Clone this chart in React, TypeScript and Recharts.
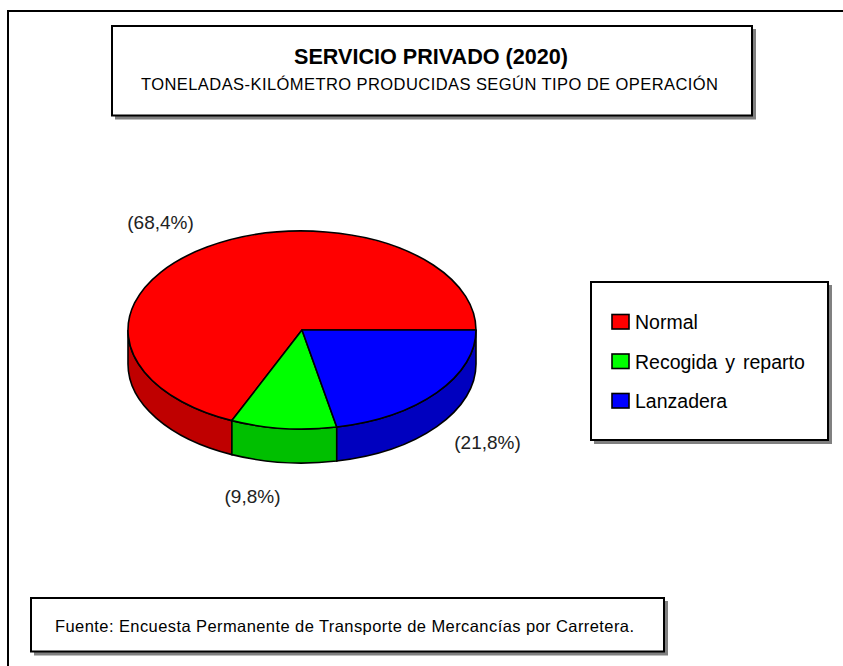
import React from "react";
import { PieChart, Pie, Legend } from "recharts";

const categories = ["Normal", "Recogida y reparto", "Lanzadera"];
const shares = [68.4, 9.8, 21.8];
const topColors = ["#FF0000", "#00FF00", "#0000FF"];
const wallColors = ["#BF0000", "#00BF00", "#0000BF"];
const valueLabels = ["(68,4%)", "(9,8%)", "(21,8%)"];

const titleText = "SERVICIO PRIVADO (2020)";
const subtitleText = "TONELADAS-KILÓMETRO PRODUCIDAS SEGÚN TIPO DE OPERACIÓN";
const sourceText = "Fuente: Encuesta Permanente de Transporte de Mercancías por Carretera.";

const W = 843;
const H = 666;
const FONT = "'Liberation Sans', Arial, sans-serif";
const CX = 302;
const CY = 330;
const RX = 174;
const RY = 99;
const DEPTH = 34;
const RAD = Math.PI / 180;

// label centre offsets from the pie centre
const labelOffsets = [
  [-141.5, -108],
  [-49.5, 166],
  [185.5, 112],
];

const data = categories.map((name, i) => ({
  name,
  value: shares[i],
  fill: topColors[i],
  wall: wallColors[i],
  label: valueLabels[i],
}));

const pt = (cx: number, cy: number, a: number, rx: number, ry: number) => [
  cx + rx * Math.cos(a * RAD),
  cy - ry * Math.sin(a * RAD),
];

function Slice3D(props: any) {
  const { cx, cy, outerRadius, startAngle, endAngle, fill, payload } = props;
  const rx = outerRadius;
  const ry = (outerRadius * RY) / RX;
  const a0 = Math.min(startAngle, endAngle);
  const a1 = Math.max(startAngle, endAngle);
  const [x0, y0] = pt(cx, cy, a0, rx, ry);
  const [x1, y1] = pt(cx, cy, a1, rx, ry);
  const large = a1 - a0 > 180 ? 1 : 0;
  const top = `M${cx},${cy} L${x0},${y0} A${rx},${ry} 0 ${large} 0 ${x1},${y1} Z`;
  const w0 = Math.max(a0, 180);
  const w1 = Math.min(a1, 360);
  let wall = null;
  if (w1 > w0) {
    const [wx0, wy0] = pt(cx, cy, w0, rx, ry);
    const [wx1, wy1] = pt(cx, cy, w1, rx, ry);
    const d = `M${wx0},${wy0} A${rx},${ry} 0 0 0 ${wx1},${wy1} L${wx1},${wy1 + DEPTH} A${rx},${ry} 0 0 1 ${wx0},${wy0 + DEPTH} Z`;
    wall = <path d={d} fill={payload?.wall ?? props.wall} stroke="#000" strokeWidth={1.6} />;
  }
  return (
    <g>
      {wall}
      <path d={top} fill={fill} stroke="#000" strokeWidth={1.6} strokeLinejoin="round" />
    </g>
  );
}

function renderLabel(props: any) {
  const { cx, cy, index } = props;
  const [dx, dy] = labelOffsets[index];
  return (
    <text
      x={cx + dx}
      y={cy + dy}
      textAnchor="middle"
      dominantBaseline="central"
      fontFamily={FONT}
      fontSize={19}
      fill="#222"
    >
      {valueLabels[index]}
    </text>
  );
}

function LegendContent(props: any) {
  const items = props.payload ?? [];
  return (
    <svg width={240} height={160} style={{ display: "block" }}>
      {items.map((it: any, i: number) => (
        <g key={it.value}>
          <rect x={22} y={33.5 + i * 39.5} width={17} height={14.5} fill={it.color} stroke="#000" strokeWidth={1.6} />
          <text x={45} y={48 + i * 39.7} fontFamily={FONT} fontSize={19.5} wordSpacing={2.5} fill="#000">
            {it.value}
          </text>
        </g>
      ))}
    </svg>
  );
}

function Box({ x, y, w, h }: { x: number; y: number; w: number; h: number }) {
  return (
    <g>
      <rect x={x + 3} y={y + 3} width={w + 1} height={h + 1} fill="#808080" />
      <rect x={x} y={y} width={w} height={h} fill="#fff" stroke="#000" strokeWidth={2} />
    </g>
  );
}

export default function App() {
  return (
    <div style={{ position: "absolute", left: 0, top: 0, width: W, height: H, overflow: "hidden", background: "#fff" }}>
      <svg width={W} height={H} style={{ position: "absolute", left: 0, top: 0 }}>
        <path d={`M${W},11 H8 V${H}`} fill="none" stroke="#000" strokeWidth={2} />
        <Box x={112} y={26} w={640} h={89.5} />
        <text x={431} y={64} textAnchor="middle" fontFamily={FONT} fontWeight="bold" fontSize={21.5} textLength={274} lengthAdjust="spacingAndGlyphs" fill="#000">
          {titleText}
        </text>
        <text x={429.5} y={90} textAnchor="middle" fontFamily={FONT} fontSize={16.5} textLength={577} fill="#000">
          {subtitleText}
        </text>
        <Box x={591} y={282} w={237} h={158} />
        <Box x={31} y={598} w={633} h={53.5} />
        <text x={55} y={632} fontFamily={FONT} fontSize={16.5} textLength={579} fill="#000">
          {sourceText}
        </text>
      </svg>
      <div style={{ position: "absolute", left: 0, top: 0 }}>
        <PieChart width={W} height={H} margin={{ top: 0, right: 0, bottom: 0, left: 0 }}>
          <Pie
            data={data}
            dataKey="value"
            nameKey="name"
            cx={CX}
            cy={CY}
            innerRadius={0}
            outerRadius={RX}
            startAngle={0}
            endAngle={360}
            isAnimationActive={false}
            shape={Slice3D}
            label={renderLabel}
            labelLine={false}
          />
          <Legend
            content={LegendContent}
            itemSorter={null}
            wrapperStyle={{ position: "absolute", left: 590, top: 281, width: 240, height: 160 }}
          />
        </PieChart>
      </div>
    </div>
  );
}
